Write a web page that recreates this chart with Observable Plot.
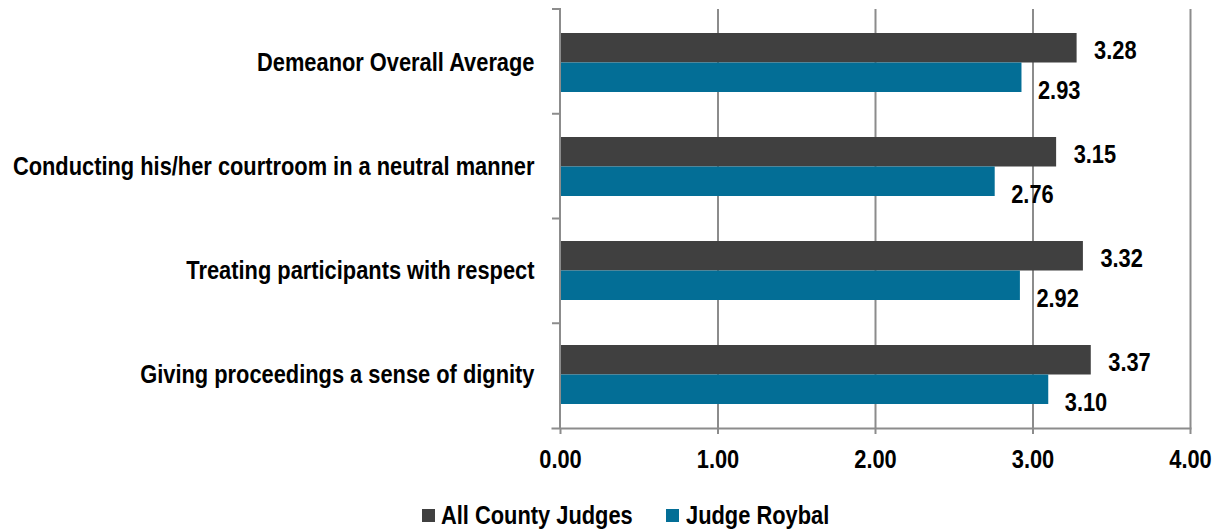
<!DOCTYPE html>
<html>
<head>
<meta charset="utf-8">
<script src="https://cdn.jsdelivr.net/npm/d3@7"></script>
<script src="https://cdn.jsdelivr.net/npm/@observablehq/plot@0.6"></script>
<style>
  html, body { margin: 0; padding: 0; background: #fff; }
  body { width: 1222px; height: 531px; position: relative; overflow: hidden;
         font-family: "Liberation Sans", Arial, sans-serif; }
  #legend { position: absolute; left: 0; top: 0; width: 1222px; height: 531px; pointer-events: none;
            font-size: 26px; font-weight: bold; color: #000; }
  .sw { position: absolute; width: 13px; height: 13px; top: 509px; }
  .lt { position: absolute; top: 500px; line-height: 30px; white-space: nowrap;
        transform: scaleX(0.84); transform-origin: left center; }
</style>
</head>
<body>
<div id="chart"></div>
<div id="legend"></div>
<script>
const categories = [
  "Demeanor Overall Average",
  "Conducting his/her courtroom in a neutral manner",
  "Treating participants with respect",
  "Giving proceedings a sense of dignity"
];
const allCountyJudges = [3.28, 3.15, 3.32, 3.37];
const judgeRoybal = [2.93, 2.76, 2.92, 3.10];
const seriesNames = ["All County Judges", "Judge Roybal"];
const seriesColors = ["#404040", "#036e96"];
const xTicks = [0, 1, 2, 3, 4];

const rowsA = categories.map((c, i) => ({cat: c, value: allCountyJudges[i]}));
const rowsB = categories.map((c, i) => ({cat: c, value: judgeRoybal[i]}));

const FONT = '"Liberation Sans", Arial, sans-serif';
const FS = 26;
const NARROW = 0.84;
const half = 29.5;

function yAxisDecor(index, scales, values, dims) {
  const g = d3.create("svg:g").attr("stroke", "#8c8c8c").attr("stroke-width", 2);
  const top = dims.marginTop, bottom = dims.height - dims.marginBottom, x0 = dims.marginLeft;
  g.append("line").attr("x1", x0).attr("x2", x0).attr("y1", top - 1).attr("y2", bottom);
  const n = categories.length;
  for (let i = 0; i < n; i++) {
    const y = top + i * (bottom - top) / n;
    g.append("line").attr("x1", x0 - 8).attr("x2", x0).attr("y1", y).attr("y2", y);
  }
  return g.node();
}

const chart = Plot.plot({
  width: 1222,
  height: 490,
  marginLeft: 560,
  marginRight: 32,
  marginTop: 9,
  marginBottom: 62,
  style: {fontFamily: FONT, background: "#fff"},
  x: {domain: [0, 4]},
  y: {domain: categories, paddingInner: 0.437, paddingOuter: 0.2185, align: 0.5},
  marks: [
    Plot.gridX(xTicks.slice(1), {stroke: "#8c8c8c", strokeOpacity: 1, strokeWidth: 2}),
    Plot.barX(rowsA, {x: "value", y: "cat", fill: seriesColors[0], insetBottom: half}),
    Plot.barX(rowsB, {x: "value", y: "cat", fill: seriesColors[1], insetTop: half}),
    Plot.frame({anchor: "bottom", stroke: "#8c8c8c", strokeWidth: 2, insetLeft: -8}),
    yAxisDecor,
    Plot.axisX({ticks: xTicks, tickFormat: d => d.toFixed(2), tickSize: 6, tickPadding: 15,
                stroke: "#8c8c8c", strokeWidth: 2, fill: "#000", fontSize: FS, fontWeight: "bold", label: null}),
    Plot.axisY({tickSize: 0, tickPadding: 26, fill: "#000", fontSize: FS, fontWeight: "bold", label: null}),
    Plot.text(rowsA, {x: "value", y: "cat", text: d => d.value.toFixed(2), dx: 17, dy: -12.75,
                      textAnchor: "start", fill: "#000", fontSize: FS, fontWeight: "bold"}),
    Plot.text(rowsB, {x: "value", y: "cat", text: d => d.value.toFixed(2), dx: 16, dy: 27.5,
                      textAnchor: "start", fill: "#000", fontSize: FS, fontWeight: "bold"})
  ]
});
document.getElementById("chart").appendChild(chart);

// Emulate a narrow (condensed) bold face: compress each text horizontally about its anchor point.
d3.select(chart).selectAll("text").each(function() {
  const t = this.getAttribute("transform") || "";
  this.setAttribute("transform", (t + ` scale(${NARROW},1)`).trim());
});

const legend = document.getElementById("legend");
const swX = [422, 666], txX = [441, 686];
seriesNames.forEach((name, i) => {
  const sw = document.createElement("span");
  sw.className = "sw";
  sw.style.left = swX[i] + "px";
  sw.style.background = seriesColors[i];
  legend.appendChild(sw);
  const tx = document.createElement("span");
  tx.className = "lt";
  tx.style.left = txX[i] + "px";
  tx.textContent = name;
  legend.appendChild(tx);
});
</script>
</body>
</html>
